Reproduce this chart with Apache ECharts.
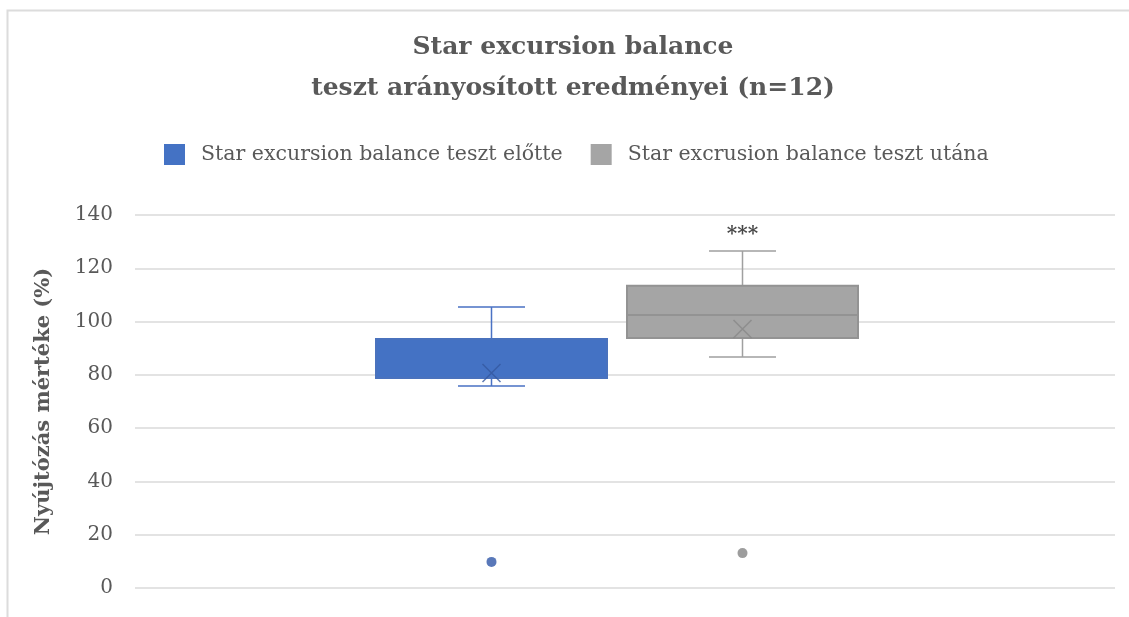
<!DOCTYPE html>
<html><head><meta charset="utf-8">
<script src="https://cdn.jsdelivr.net/npm/echarts@6/dist/echarts.min.js"></script>
<style>html,body{margin:0;padding:0;background:#fff}#c{width:1129px;height:617px}</style>
</head><body><div id="c"></div>
<script>
const seriesNames = ['Star excursion balance teszt előtte', 'Star excrusion balance teszt utána'];
const yTicks = [0, 20, 40, 60, 80, 100, 120, 140];
// [min, Q1, median, Q3, max]
const boxBefore = [75.8, 78.8, 78.8, 93.5, 105.5];
const boxAfter = [86.7, 93.8, 102.5, 113.4, 126.5];
const meanBefore = 80.7;
const meanAfter = 97.2;
const outlierBefore = [9.8];
const outlierAfter = [13.1];
const signifLabel = '***';
const signifValue = 132.5;

const colors = ['#4472C4', '#A5A5A5'];
const textColor = '#595959';
const serif = '"DejaVu Serif","Liberation Serif",serif';
const yMin = yTicks[0], yMax = yTicks[yTicks.length - 1], yStep = yTicks[1] - yTicks[0];

const chart = echarts.init(document.getElementById('c'));
const gridTop = 215, gridBottom = 29;
const xMark = 'path://M0,0L10,10M10,0L0,10';

function hiddenY(i) {
  return { type: 'value', gridIndex: i, min: yMin, max: yMax, interval: yStep, show: false };
}
function hiddenX(i, name) {
  return { type: 'category', gridIndex: i, data: [name], show: false };
}
// box only (whiskers collapsed onto box edges)
function boxOnly(b) { return [b[1], b[1], b[2], b[3], b[3]]; }

chart.setOption({
  animation: false,
  backgroundColor: '#fff',
  graphic: [{ type: 'rect', left: 5, top: 8, shape: { width: 1130, height: 620 }, style: { fill: 'none', stroke: '#dcdcdc', lineWidth: 2 }, silent: true }],
  title: {
    text: 'Star excursion balance\nteszt arányosított eredményei (n=12)',
    left: 568, textAlign: 'center', top: 22,
    textStyle: { fontFamily: serif, fontWeight: 'bold', fontSize: 25, color: textColor, lineHeight: 41 }
  },
  legend: {
    top: 139, left: 159, itemWidth: 21, itemHeight: 21, itemGap: 28,
    icon: 'rect',
    data: seriesNames.map((n, i) => ({ name: n, itemStyle: { color: colors[i], borderWidth: 0 } })),
    textStyle: { fontFamily: serif, fontSize: 20.5, color: textColor, padding: [0, 0, 0, 11] }
  },
  grid: [
    { left: 135, right: 14, top: gridTop, bottom: gridBottom },
    { left: 366, width: 251, top: gridTop, bottom: gridBottom },
    { left: 617, width: 251, top: gridTop, bottom: gridBottom }
  ],
  xAxis: [
    { type: 'category', gridIndex: 0, data: [''], axisLine: { show: false }, axisTick: { show: false }, axisLabel: { show: false } },
    hiddenX(1, seriesNames[0]),
    hiddenX(2, seriesNames[1]),
    hiddenX(1, seriesNames[0]),
    hiddenX(2, seriesNames[1])
  ],
  yAxis: [
    {
      type: 'value', gridIndex: 0, min: yMin, max: yMax, interval: yStep,
      name: 'Nyújtózás mértéke (%)', nameLocation: 'middle', nameGap: 81, nameRotate: 90,
      nameTextStyle: { fontFamily: serif, fontWeight: 'bold', fontSize: 21, color: textColor },
      axisLine: { show: false }, axisTick: { show: false },
      axisLabel: { fontFamily: serif, fontSize: 20, color: textColor, margin: 22 },
      splitLine: { lineStyle: { color: '#e3e3e3', width: 2 } }
    },
    hiddenY(1), hiddenY(2)
  ],
  series: [
    {
      name: seriesNames[0], type: 'boxplot', xAxisIndex: 1, yAxisIndex: 1, z: 3,
      boxWidth: [231, 231],
      itemStyle: { color: colors[0], borderColor: '#4a72bd', borderWidth: 2 },
      data: [boxOnly(boxBefore)]
    },
    {
      name: seriesNames[1], type: 'boxplot', xAxisIndex: 2, yAxisIndex: 2, z: 3,
      boxWidth: [231, 231],
      itemStyle: { color: colors[1], borderColor: '#939393', borderWidth: 2 },
      data: [boxOnly(boxAfter)]
    },
    {
      type: 'boxplot', xAxisIndex: 3, yAxisIndex: 1, z: 1,
      boxWidth: [67, 67],
      itemStyle: { color: 'none', borderColor: '#4a72c4', borderWidth: 1.5 },
      data: [boxBefore]
    },
    {
      type: 'boxplot', xAxisIndex: 4, yAxisIndex: 2, z: 1,
      boxWidth: [67, 67],
      itemStyle: { color: 'none', borderColor: '#a0a0a0', borderWidth: 1.5 },
      data: [boxAfter]
    },
    {
      type: 'scatter', xAxisIndex: 1, yAxisIndex: 1, symbol: xMark, symbolSize: 18, z: 5,
      itemStyle: { color: 'none', borderColor: '#34589f', borderWidth: 1.5 },
      data: [[seriesNames[0], meanBefore]]
    },
    {
      type: 'scatter', xAxisIndex: 2, yAxisIndex: 2, symbol: xMark, symbolSize: 18, z: 5,
      itemStyle: { color: 'none', borderColor: '#878787', borderWidth: 1.5 },
      data: [[seriesNames[1], meanAfter]]
    },
    {
      type: 'scatter', xAxisIndex: 1, yAxisIndex: 1, symbol: 'circle', symbolSize: 10,
      itemStyle: { color: '#2f56a8' },
      data: outlierBefore.map(v => [seriesNames[0], v])
    },
    {
      type: 'scatter', xAxisIndex: 2, yAxisIndex: 2, symbol: 'circle', symbolSize: 10,
      itemStyle: { color: '#858585' },
      data: outlierAfter.map(v => [seriesNames[1], v])
    },
    {
      type: 'scatter', xAxisIndex: 2, yAxisIndex: 2, symbolSize: 0,
      label: { show: true, position: 'inside', formatter: signifLabel, fontSize: 20, fontWeight: 'bold', color: '#1a1a1a', fontFamily: serif },
      data: [[seriesNames[1], signifValue]]
    }
  ]
});
</script></body></html>
